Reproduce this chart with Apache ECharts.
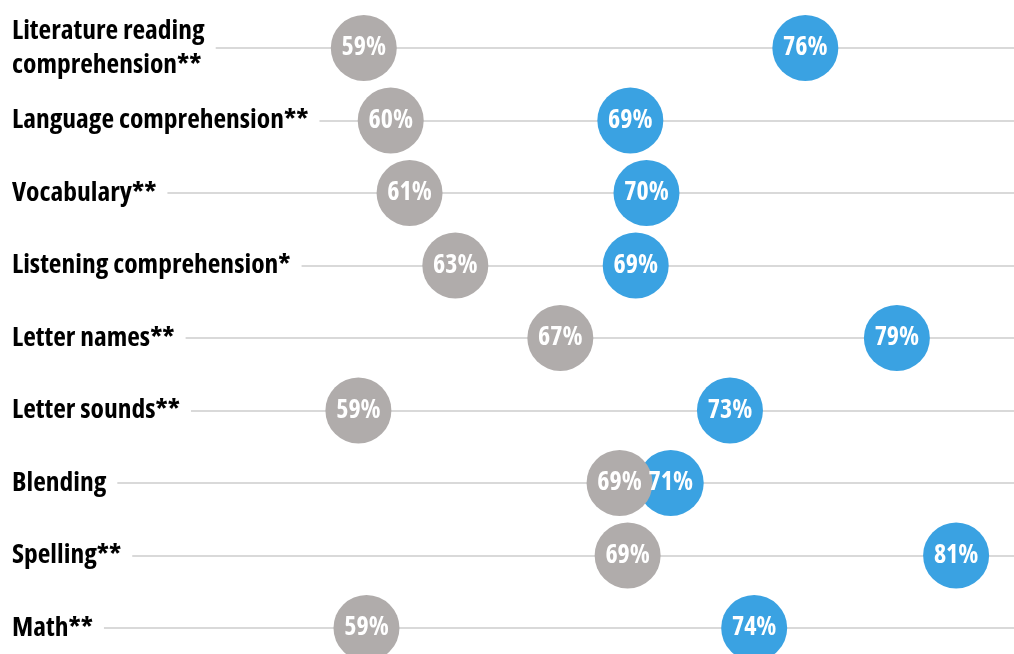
<!DOCTYPE html>
<html><head><meta charset="utf-8">
<script src="https://cdn.jsdelivr.net/npm/echarts@6/dist/echarts.min.js"></script>
<style>html,body{margin:0;padding:0;background:#fff}#c{width:1014px;height:654px}</style>
</head><body><div id="c"></div>
<script>
const categories = [
  'Literature reading\ncomprehension**',
  'Language comprehension**',
  'Vocabulary**',
  'Listening comprehension*',
  'Letter names**',
  'Letter sounds**',
  'Blending',
  'Spelling**',
  'Math**'
];
const grayValues = [59.3, 60.3, 61.0, 62.7, 66.6, 59.1, 68.8, 69.1, 59.4];
const blueValues = [75.7, 69.2, 69.8, 69.4, 79.1, 72.9, 70.7, 81.3, 73.8];

const FONT = "'Open Sans', 'Liberation Sans Narrow', sans-serif";
const chart = echarts.init(document.getElementById('c'), null, {renderer: 'canvas'});
function pointLabel() {
  return {
    show: true, position: 'inside', color: '#fff', fontSize: 26,
    fontWeight: 'bold condensed', fontFamily: FONT,
    formatter: p => Math.round(p.value[0]) + '%'
  };
}
chart.setOption({
  animation: false,
  backgroundColor: '#fff',
  grid: {left: 0, right: 0, top: 48, bottom: 26, containLabel: false},
  xAxis: {type: 'value', min: 45.9, max: 83.45, show: false},
  yAxis: {
    type: 'category', data: categories, inverse: true, boundaryGap: false,
    axisLine: {show: false}, axisTick: {show: false},
    splitLine: {show: true, lineStyle: {color: '#d9d9d9', width: 2}},
    axisLabel: {
      inside: true, margin: 0, color: '#000', fontSize: 27.5, lineHeight: 34,
      fontWeight: 'bold condensed', fontFamily: FONT,
      backgroundColor: '#fff', padding: [2, 11, 2, 9]
    }
  },
  series: [
    {
      type: 'scatter', name: 'blue', symbol: 'circle', symbolSize: 66,
      itemStyle: {color: '#3aa2e2', opacity: 1},
      data: blueValues.map((v, i) => [v, categories[i]]),
      label: pointLabel(), clip: false
    },
    {
      type: 'scatter', name: 'gray', symbol: 'circle', symbolSize: 66,
      itemStyle: {color: '#b0acab', opacity: 1},
      data: grayValues.map((v, i) => [v, categories[i]]),
      label: pointLabel(), clip: false
    }
  ]
});
</script></body></html>
